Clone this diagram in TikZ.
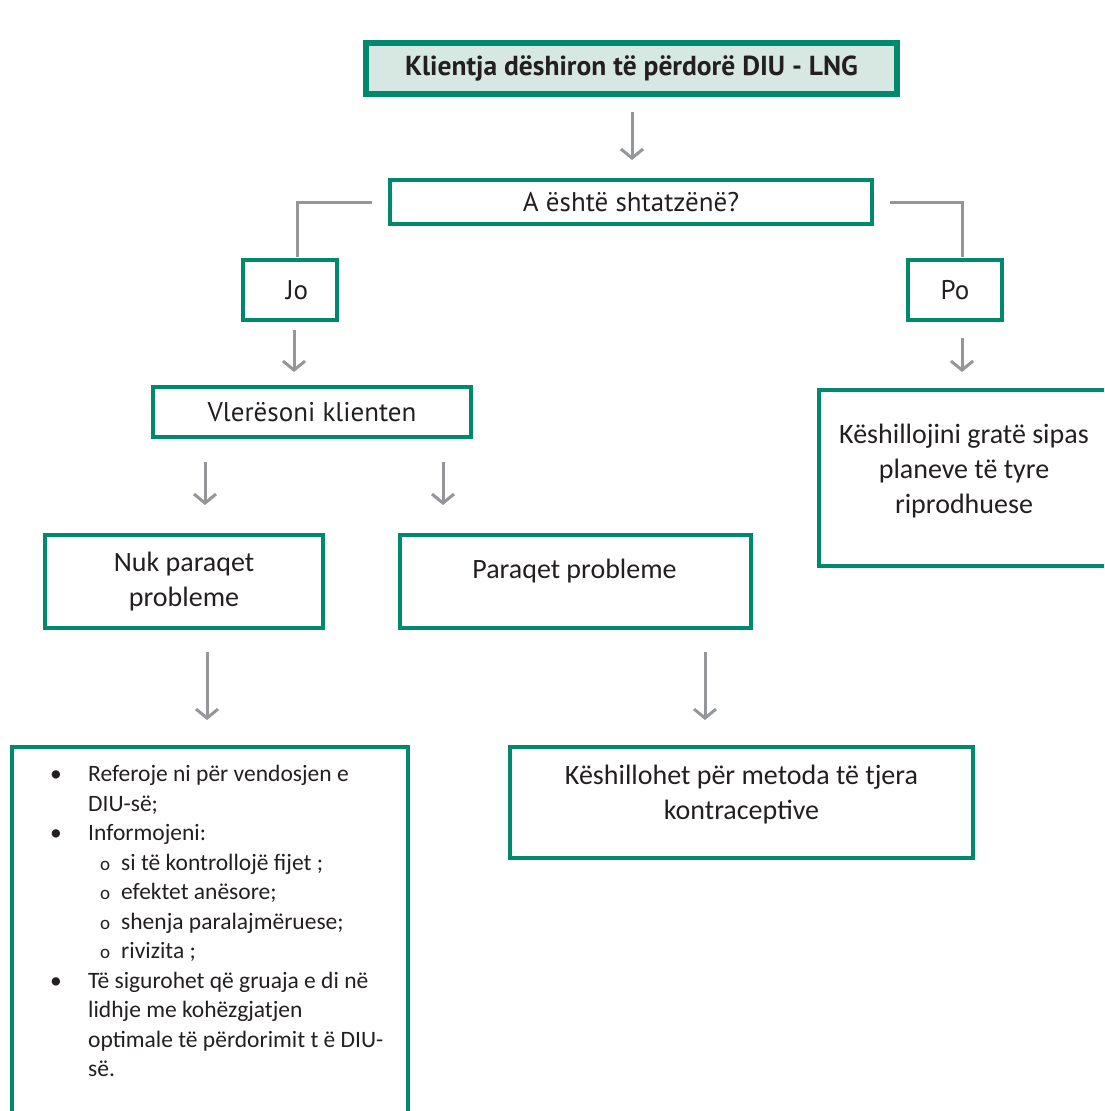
\documentclass[tikz,border=0pt]{standalone}
\usepackage{fontspec}
\setmainfont{Carlito}
\newfontfamily\myr{PT Sans}
\usetikzlibrary{arrows.meta,calc}
\definecolor{gr}{RGB}{0,137,110}
\definecolor{mint}{RGB}{214,232,225}
\definecolor{ag}{RGB}{148,150,153}
\definecolor{tx}{RGB}{35,31,32}
\begin{document}
\begin{tikzpicture}[x=1pt,y=-1pt,
  box/.style={draw=gr,line width=4pt,inner sep=0pt,align=center,text=tx},
  arr/.style={draw=ag,line width=3pt,-{Straight Barb[length=9pt,width=22pt,line width=3pt]}},
  ln/.style={draw=ag,line width=3pt},
  bt/.style={font=\fontsize{28}{35}\selectfont,text=tx,align=center,inner sep=0pt},
  mt/.style={font=\myr\fontsize{27}{32}\selectfont}]
\useasboundingbox (0,0) rectangle (1104,1111);
\clip (0,0) rectangle (1104,1111);

% boxes
\node[box,line width=6pt,fill=mint,minimum width=531pt,minimum height=51pt,
      font=\myr\bfseries\fontsize{27.5}{32}\selectfont] (tl) at (631.5,68.5)
      {Klientja dëshiron të përdorë DIU - LNG};
\node[box,mt,minimum width=482pt,minimum height=44pt] (q) at (631,202) {A është shtatzënë?};
\node[box,mt,minimum width=94pt,minimum height=60pt] (jo) at (290,290) {\hspace*{14pt}Jo};
\node[box,mt,minimum width=94pt,minimum height=60pt] (po) at (955,290) {Po};
\node[box,mt,minimum width=318pt,minimum height=50pt] (vl) at (312,412) {Vlerësoni klienten};
\node[box,bt,minimum width=278pt,minimum height=93pt] (nuk) at (184,581.5) {Nuk paraqet\\probleme};
\node[box,minimum width=351pt,minimum height=93pt] (pp) at (575.5,581.5) {};
\node[bt] (pptx) at ($(pp.center)+(-1,-10)$) {Paraqet probleme};
\node[box,minimum width=299pt,minimum height=176pt] (ke) at (968.5,478) {};
\node[bt] (ketx) at ($(ke.center)+(-4.5,-7)$) {Këshillojini gratë sipas\\planeve të tyre\\riprodhuese};
\node[box,minimum width=396pt,minimum height=381pt] (bl) at (210,937.5) {};
\node[box,minimum width=463pt,minimum height=111pt] (ks) at (741.5,802.5) {};
\node[bt] (kstx) at ($(ks.center)+(0,-8)$) {Këshillohet për metoda të tjera\\kontraceptive};

\node[anchor=north west,inner sep=0pt,align=left,text=tx,
      font=\fontsize{23.5}{29.5}\selectfont] (lst) at ($(bl.north west)+(40,20)$) {%
\makebox[38pt][l]{\textbullet}Referoje ni për vendosjen e\\
\hspace*{38pt}DIU-së;\\
\makebox[38pt][l]{\textbullet}Informojeni:\\
\hspace*{50pt}\makebox[21pt][l]{\fontsize{19}{20}\selectfont o}si të kontrollojë fijet ;\\
\hspace*{50pt}\makebox[21pt][l]{\fontsize{19}{20}\selectfont o}efektet anësore;\\
\hspace*{50pt}\makebox[21pt][l]{\fontsize{19}{20}\selectfont o}shenja paralajmëruese;\\
\hspace*{50pt}\makebox[21pt][l]{\fontsize{19}{20}\selectfont o}rivizita ;\\
\makebox[38pt][l]{\textbullet}Të sigurohet që gruaja e di në\\
\hspace*{38pt}lidhje me kohëzgjatjen\\
\hspace*{38pt}optimale të përdorimit t ë DIU-\\
\hspace*{38pt}së.};

% connectors
\draw[arr] ($(tl.south)+(0.5,15)$) -- ($(q.north)+(1,-18)$);
\draw[ln] ($(q.west)+(-16,0)$) -| ($(jo.north)+(7,-1)$);
\draw[ln] ($(q.east)+(16,0)$) -| ($(po.north)+(7,-1)$);

\coordinate (joa) at ($(jo.south)+(4,8)$);
\coordinate (vla) at ($(vl.north)+(0,-13)$);
\draw[arr] (joa) -- (joa |- vla);

\coordinate (poa) at ($(po.south)+(7,16)$);
\coordinate (kea) at ($(ke.north)+(0,-16)$);
\draw[arr] (poa) -- (poa |- kea);

\coordinate (vlb) at ($(vl.south)+(-107,23)$);
\coordinate (vlc) at ($(vl.south)+(131,23)$);
\coordinate (nka) at ($(nuk.north)+(0,-28)$);
\draw[arr] (vlb) -- (vlb |- nka);
\draw[arr] (vlc) -- (vlc |- nka);

\coordinate (nkb) at ($(nuk.south)+(23,22)$);
\coordinate (ppb) at ($(pp.south)+(129.5,22)$);
\coordinate (bla) at ($(bl.north)+(0,-25)$);
\draw[arr] (nkb) -- (nkb |- bla);
\draw[arr] (ppb) -- (ppb |- bla);
\end{tikzpicture}
\end{document}
